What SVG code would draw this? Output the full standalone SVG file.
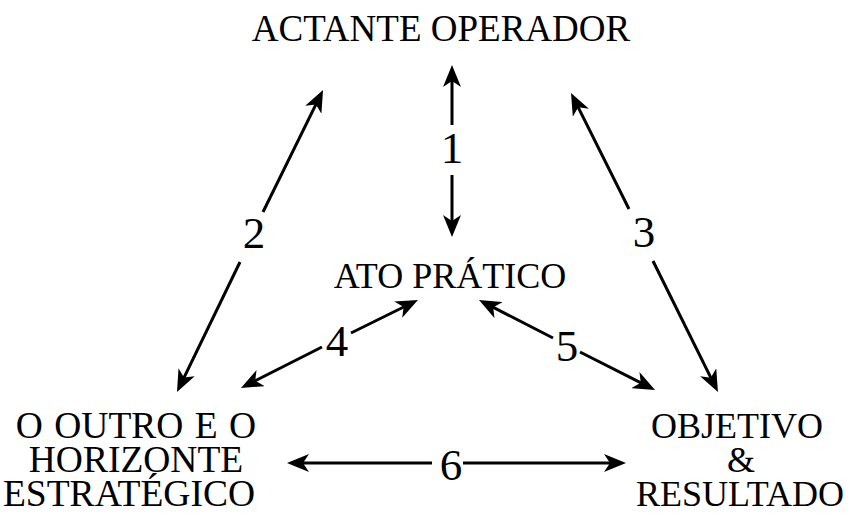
<svg xmlns="http://www.w3.org/2000/svg" width="850" height="524" viewBox="0 0 850 524">
<style>
.lbl{font-family:"Liberation Serif","Times New Roman",serif;font-size:36px;fill:#000;text-anchor:middle}
.lft{font-size:37.5px}
.num{font-family:"Liberation Serif","Times New Roman",serif;font-size:45px;fill:#000;text-anchor:middle}
.ln{stroke:#000;stroke-width:3;fill:none;marker-end:url(#ah)}
</style>
<defs>
<marker id="ah" markerUnits="userSpaceOnUse" markerWidth="22" markerHeight="18" viewBox="0 0 22 18" refX="14" refY="9" orient="auto">
<path d="M0,0 L22,9 L0,18 L6,9 Z" fill="#000"/>
</marker>
</defs>
<rect width="850" height="524" fill="#fff"/>
<g id="node-actante"><text class="lbl" x="441" y="41" style="font-size:37px">ACTANTE OPERADOR</text></g>
<g id="node-ato"><text class="lbl" x="450" y="288">ATO PRÁTICO</text></g>
<g id="node-outro">
<text class="lbl lft" x="136" y="438" word-spacing="2">O OUTRO E O</text>
<text class="lbl lft" x="136" y="472">HORIZONTE</text>
<text class="lbl lft" x="129" y="506">ESTRATÉGICO</text>
</g>
<g id="node-objetivo">
<text class="lbl" x="737" y="438">OBJETIVO</text>
<text class="lbl" x="741" y="472">&amp;</text>
<text class="lbl" x="740" y="506">RESULTADO</text>
</g>
<g id="connectors">
<line class="ln" x1="452" y1="125" x2="452" y2="73"/>
<line class="ln" x1="452" y1="175" x2="452" y2="229"/>
<text class="num" x="452" y="163">1</text>
<line class="ln" x1="263" y1="212" x2="319.5" y2="97.2"/>
<line class="ln" x1="240" y1="262" x2="180.5" y2="384.8"/>
<text class="num" x="254" y="248">2</text>
<line class="ln" x1="629" y1="209" x2="574.6" y2="100.2"/>
<line class="ln" x1="653" y1="261" x2="714.4" y2="384.8"/>
<text class="num" x="644" y="247">3</text>
<line class="ln" x1="351" y1="333" x2="410.8" y2="303.5"/>
<line class="ln" x1="322" y1="347" x2="248.1" y2="384.4"/>
<text class="num" x="337" y="356">4</text>
<line class="ln" x1="553" y1="338" x2="486.1" y2="303.7"/>
<line class="ln" x1="580" y1="352" x2="647.9" y2="386.4"/>
<text class="num" x="567" y="361">5</text>
<line class="ln" x1="432" y1="463" x2="295" y2="463"/>
<line class="ln" x1="463" y1="463" x2="618" y2="463"/>
<text class="num" x="451" y="480">6</text>
</g>
</svg>
